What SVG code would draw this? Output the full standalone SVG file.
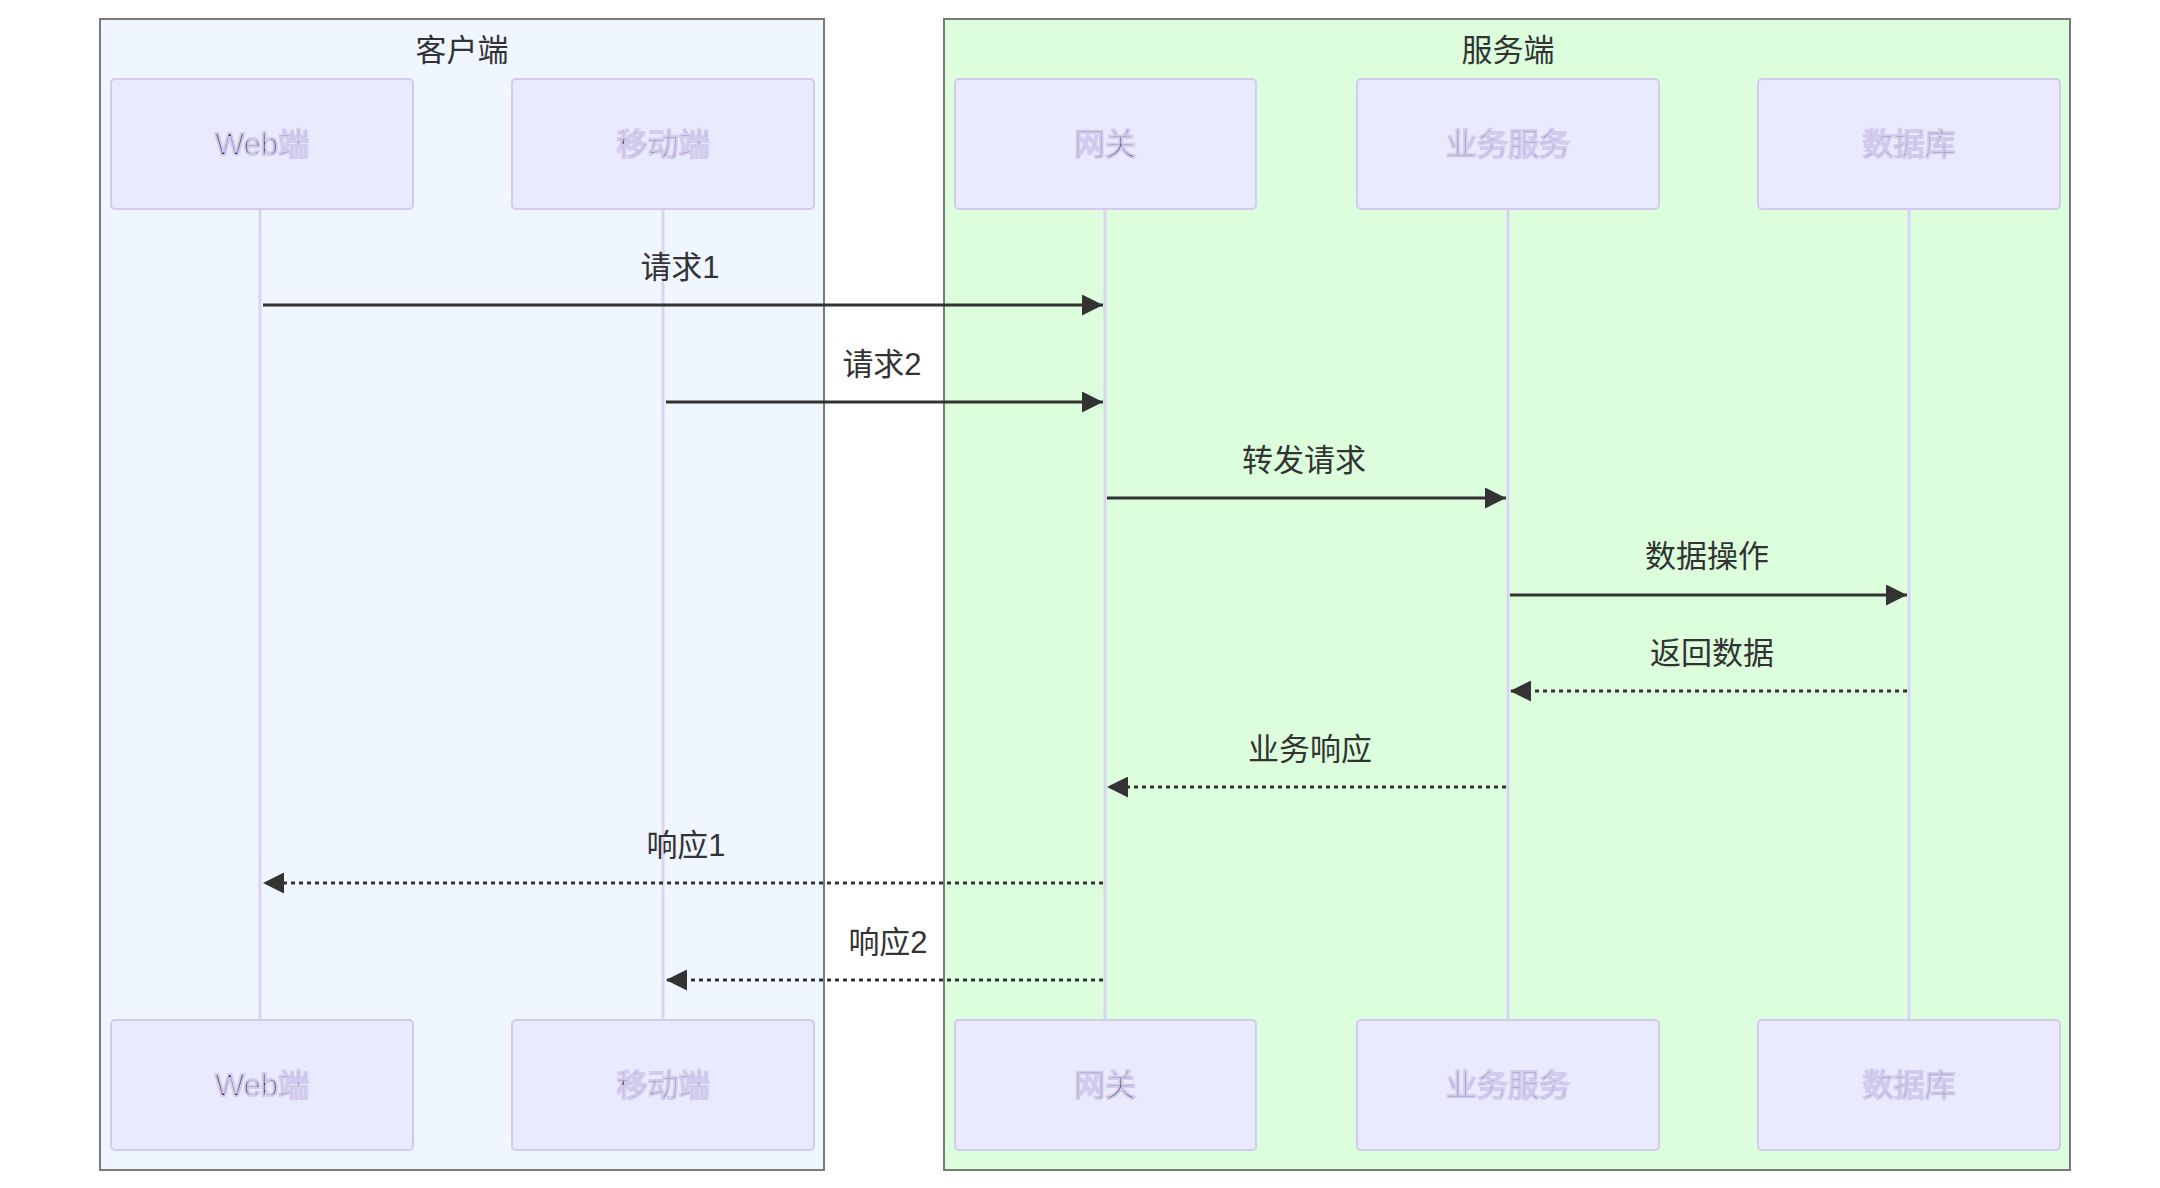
<svg xmlns="http://www.w3.org/2000/svg" width="2160" height="1188" viewBox="0 0 2160 1188">
<style>
text{font-family:"Liberation Sans","Noto Sans CJK SC",sans-serif;fill:#333;text-anchor:middle;dominant-baseline:central}
.grp{stroke:#7a7a7a;stroke-width:2}
.actor{fill:#eaeaff;stroke:#d3cbee;stroke-width:2}
.actor text{font-size:31px;fill:#222}
.life{stroke:#dcd2f2;stroke-width:3}
.msg{stroke:#333;stroke-width:3;fill:none}
.dash{stroke-dasharray:4,4}
.lbl{font-size:31px}
</style>
<defs>
<marker id="ah" viewBox="0 0 10 10" refX="10" refY="5" markerWidth="7" markerHeight="7" orient="auto-start-reverse" markerUnits="strokeWidth">
<path d="M0,0 L10,5 L0,10 z" fill="#333"/>
</marker>
</defs>
<rect class="grp" x="100" y="19" width="724" height="1151" fill="#eff6ff"/>
<rect class="grp" x="944" y="19" width="1126" height="1151" fill="#dcfedc"/>
<text x="462" y="50" class="lbl">客户端</text>
<text x="1508" y="50" class="lbl">服务端</text>
<g id="lifelines">
<line class="life" x1="260" y1="209" x2="260" y2="1020"/>
<line class="life" x1="663" y1="209" x2="663" y2="1020"/>
<line class="life" x1="1105" y1="209" x2="1105" y2="1020"/>
<line class="life" x1="1508" y1="209" x2="1508" y2="1020"/>
<line class="life" x1="1909" y1="209" x2="1909" y2="1020"/>
</g>
<g id="web" class="actor"><rect x="111" y="79" width="302" height="130" rx="4"/><text x="262" y="144">Web端</text><rect x="111" y="1020" width="302" height="130" rx="4"/><text x="262" y="1085">Web端</text></g>
<g id="mobile" class="actor"><rect x="512" y="79" width="302" height="130" rx="4"/><text x="663" y="144">移动端</text><rect x="512" y="1020" width="302" height="130" rx="4"/><text x="663" y="1085">移动端</text></g>
<g id="gateway" class="actor"><rect x="955" y="79" width="301" height="130" rx="4"/><text x="1105" y="144">网关</text><rect x="955" y="1020" width="301" height="130" rx="4"/><text x="1105" y="1085">网关</text></g>
<g id="service" class="actor"><rect x="1357" y="79" width="302" height="130" rx="4"/><text x="1508" y="144">业务服务</text><rect x="1357" y="1020" width="302" height="130" rx="4"/><text x="1508" y="1085">业务服务</text></g>
<g id="db" class="actor"><rect x="1758" y="79" width="302" height="130" rx="4"/><text x="1909" y="144">数据库</text><rect x="1758" y="1020" width="302" height="130" rx="4"/><text x="1909" y="1085">数据库</text></g>
<g id="connectors">
<line class="msg" x1="263" y1="305" x2="1103" y2="305" marker-end="url(#ah)"/>
<text class="lbl" x="680" y="267">请求1</text>
<line class="msg" x1="666" y1="402" x2="1103" y2="402" marker-end="url(#ah)"/>
<text class="lbl" x="882" y="364">请求2</text>
<line class="msg" x1="1107" y1="498" x2="1506" y2="498" marker-end="url(#ah)"/>
<text class="lbl" x="1304" y="460">转发请求</text>
<line class="msg" x1="1510" y1="595" x2="1907" y2="595" marker-end="url(#ah)"/>
<text class="lbl" x="1707" y="556">数据操作</text>
<line class="msg dash" x1="1907" y1="691" x2="1510" y2="691" marker-end="url(#ah)"/>
<text class="lbl" x="1712" y="653">返回数据</text>
<line class="msg dash" x1="1506" y1="787" x2="1107" y2="787" marker-end="url(#ah)"/>
<text class="lbl" x="1310" y="749">业务响应</text>
<line class="msg dash" x1="1103" y1="883" x2="263" y2="883" marker-end="url(#ah)"/>
<text class="lbl" x="686" y="845">响应1</text>
<line class="msg dash" x1="1103" y1="980" x2="666" y2="980" marker-end="url(#ah)"/>
<text class="lbl" x="888" y="942">响应2</text>
</g>
</svg>
